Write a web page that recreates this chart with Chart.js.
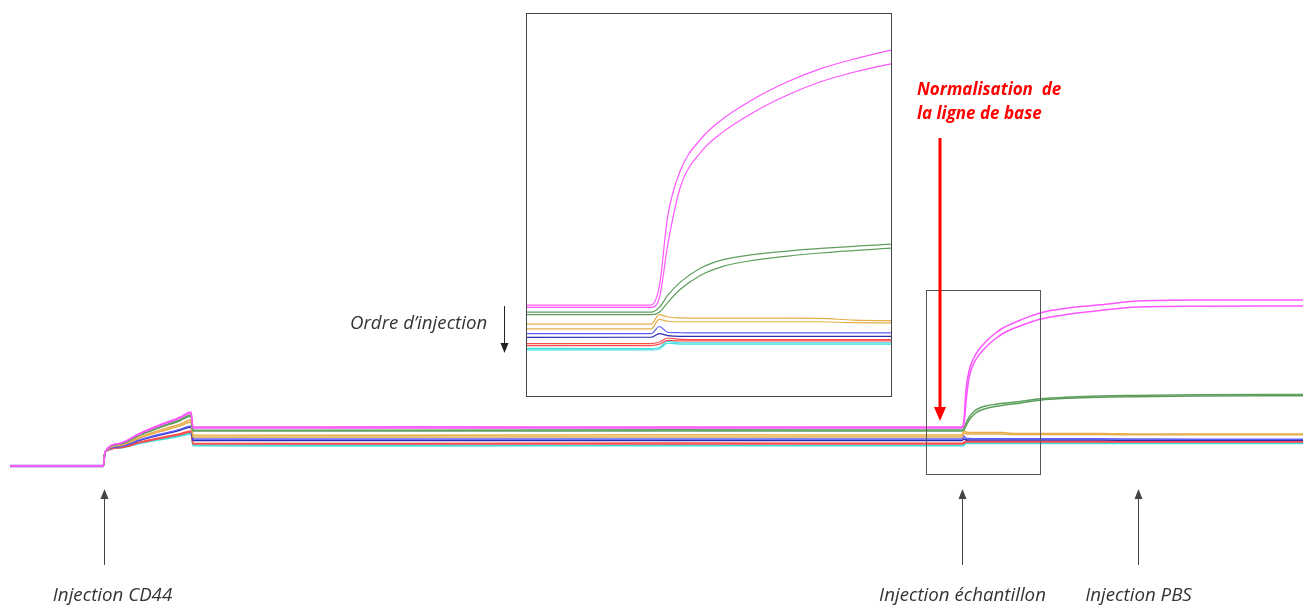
<!DOCTYPE html>
<html>
<head>
<meta charset="utf-8">
<script src="https://cdn.jsdelivr.net/npm/chart.js@4.4.1/dist/chart.umd.min.js"></script>
<style>
body { margin: 0; background: #fff; }
#wrap { position: relative; width: 1303px; height: 605px; }
canvas { display: block; }
#zoom { position: absolute; left: 526px; top: 13px; width: 364px; height: 382px; border: 1px solid #444; background: #fff; }
</style>
</head>
<body>
<div id="wrap">
  <canvas id="grafico1" width="1303" height="605"></canvas>
  <div id="zoom"><canvas id="grafico2" width="364" height="382"></canvas></div>
</div>
<script>
const times = [0, 280, 285, 330, 390, 450, 510, 543, 549, 1200, 2000, 2856, 2862, 2868, 2877, 2892, 2907, 2931, 2955, 2979, 3003, 3030, 3090, 3180, 3270, 3384, 3570, 3879];

const magenta1 = [0, 0, 140, 228, 328, 412, 488, 540, 390, 392, 389, 390, 470, 760, 950, 1085, 1165, 1255, 1325, 1380, 1420, 1458, 1530, 1582, 1612, 1650, 1660, 1660];
const magenta2 = [0, 0, 140, 226, 323, 405, 479, 530, 380, 381, 379, 380, 420, 640, 880, 1030, 1110, 1200, 1270, 1325, 1365, 1400, 1468, 1520, 1555, 1590, 1598, 1600];
const vert1 = [0, 0, 140, 221, 314, 392, 462, 510, 360, 358, 362, 360, 380, 430, 485, 545, 578, 602, 616, 627, 636, 645, 672, 690, 700, 705, 712, 715];
const vert2 = [0, 0, 140, 219, 309, 385, 453, 500, 350, 349, 351, 350, 360, 400, 455, 515, 550, 578, 595, 608, 618, 628, 658, 678, 688, 693, 700, 703];
const jaune1 = [3, 3, 140, 210, 290, 358, 418, 460, 310, 308, 312, 310, 350, 340, 336, 335, 335, 335, 335, 334, 327, 325, 325, 325, 325, 320, 320, 320];
const jaune2 = [-2, -2, 140, 206, 281, 344, 401, 440, 290, 291, 289, 290, 330, 322, 320, 320, 320, 320, 320, 320, 316, 315, 315, 315, 315, 312, 312, 312];
const bleu1 = [5, 5, 140, 197, 262, 317, 366, 400, 270, 271, 269, 270, 300, 276, 274, 273, 273, 273, 273, 273, 273, 273, 273, 272, 272, 270, 268, 268];
const bleu2 = [-4, -4, 140, 195, 258, 310, 358, 390, 255, 256, 254, 255, 270, 262, 259, 259, 259, 259, 259, 259, 259, 259, 259, 259, 259, 258, 258, 258];
const rouge1 = [-3, -3, 140, 186, 239, 283, 323, 350, 228, 226, 229, 228, 235, 252, 246, 245, 245, 245, 245, 245, 245, 245, 245, 245, 245, 244, 244, 244];
const rouge2 = [2, 2, 140, 184, 234, 276, 314, 340, 220, 221, 219, 220, 226, 242, 240, 240, 240, 240, 240, 240, 240, 240, 240, 240, 240, 239, 239, 239];
const cyan1 = [0, 0, 140, 182, 229, 269, 305, 330, 208, 207, 209, 208, 212, 238, 232, 232, 232, 232, 232, 232, 232, 232, 232, 232, 232, 230, 230, 230];
const cyan2 = [1, 1, 140, 180, 225, 262, 297, 320, 202, 201, 203, 202, 206, 230, 226, 226, 226, 226, 226, 226, 226, 226, 226, 226, 226, 225, 225, 225];

const series = [magenta1, magenta2, vert1, vert2, jaune1, jaune2, bleu1, bleu2, rouge1, rouge2, cyan1, cyan2];
const colors = ['#ff55ff', '#ff55ff', '#5e9f5e', '#5e9f5e', '#e6ad4a', '#e6ad4a', '#5c5cff', '#2b2bb0', '#ff4d4d', '#ff4d4d', '#40dede', '#40dede'];

// injections et zone agrandie
const eventTimes = [282, 2856, 3384];
const eventLabels = ['Injection CD44', 'Injection échantillon', 'Injection PBS'];
const labelShift = [8, 0, 0];
const normTime = 2790;
const zoomBox = [2748, 3090, -80, 1760];

function makeDatasets(w) {
    return series.map((vals, i) => ({
        label: 's' + i,
        data: times.map((t, j) => ({ x: t, y: vals[j] })),
        borderColor: colors[i],
        borderWidth: w,
        pointRadius: 0,
        fill: false,
        cubicInterpolationMode: 'monotone'
    }));
}

function arrow(ctx, x, yFrom, yTip, color, lw, hw, hl) {
    const dir = yTip < yFrom ? 1 : -1;
    ctx.strokeStyle = color;
    ctx.fillStyle = color;
    ctx.lineWidth = lw;
    ctx.beginPath();
    ctx.moveTo(x, yFrom);
    ctx.lineTo(x, yTip + dir * hl);
    ctx.stroke();
    ctx.beginPath();
    ctx.moveTo(x, yTip);
    ctx.lineTo(x - hw, yTip + dir * hl);
    ctx.lineTo(x + hw, yTip + dir * hl);
    ctx.closePath();
    ctx.fill();
}

const notes = {
    id: 'notes',
    afterDatasetsDraw(chart) {
        const ctx = chart.ctx;
        const x = chart.scales.x;
        const y = chart.scales.y;
        ctx.save();

        // cadre de la zone agrandie
        const bx0 = Math.round(x.getPixelForValue(zoomBox[0])) + 0.5;
        const bx1 = Math.round(x.getPixelForValue(zoomBox[1])) + 0.5;
        const by0 = Math.round(y.getPixelForValue(zoomBox[3])) + 0.5;
        const by1 = Math.round(y.getPixelForValue(zoomBox[2])) + 0.5;
        ctx.strokeStyle = '#555';
        ctx.lineWidth = 1;
        ctx.strokeRect(bx0, by0, bx1 - bx0, by1 - by0);

        // flèches d'injection
        ctx.font = 'italic 18.7px "Open Sans"';
        ctx.textAlign = 'center';
        eventTimes.forEach((t, i) => {
            const px = Math.round(x.getPixelForValue(t)) + 0.5;
            arrow(ctx, px, 565, 489, '#444', 1, 4, 10);
            ctx.fillStyle = '#333';
            ctx.fillText(eventLabels[i], px + labelShift[i], 601);
        });

        // ordre d'injection
        ctx.textAlign = 'left';
        ctx.fillStyle = '#333';
        ctx.fillText('Ordre d’injection', 350, 329);
        arrow(ctx, 504.5, 306, 353, '#222', 1, 4, 10);

        // normalisation de la ligne de base
        const nx = x.getPixelForValue(normTime);
        arrow(ctx, nx, 138, 421, '#ff0000', 3, 6, 14);
        ctx.fillStyle = '#ff0000';
        ctx.font = 'italic bold 17px "Open Sans"';
        ctx.textAlign = 'left';
        ctx.fillText('Normalisation  de', 917, 95);
        ctx.fillText('la ligne de base', 917, 119);

        ctx.restore();
    }
};

const ctx1 = document.getElementById('grafico1');
const ctx2 = document.getElementById('grafico2');

new Chart(ctx1, {
    type: 'line',
    data: { datasets: makeDatasets(1.5) },
    options: {
        responsive: false,
        animation: false,
        layout: { padding: 0 },
        plugins: { legend: { display: false }, tooltip: { enabled: false } },
        scales: {
            x: { type: 'linear', display: false, min: -30, max: 3879 },
            y: { display: false, min: -1390, max: 4660 }
        }
    },
    plugins: [notes]
});

new Chart(ctx2, {
    type: 'line',
    data: { datasets: makeDatasets(1.2) },
    options: {
        responsive: false,
        animation: false,
        layout: { padding: 0 },
        plugins: { legend: { display: false }, tooltip: { enabled: false } },
        scales: {
            x: { type: 'linear', display: false, min: 2766, max: 3030 },
            y: { display: false, min: 9, max: 1609 }
        }
    }
});
</script>
</body>
</html>
